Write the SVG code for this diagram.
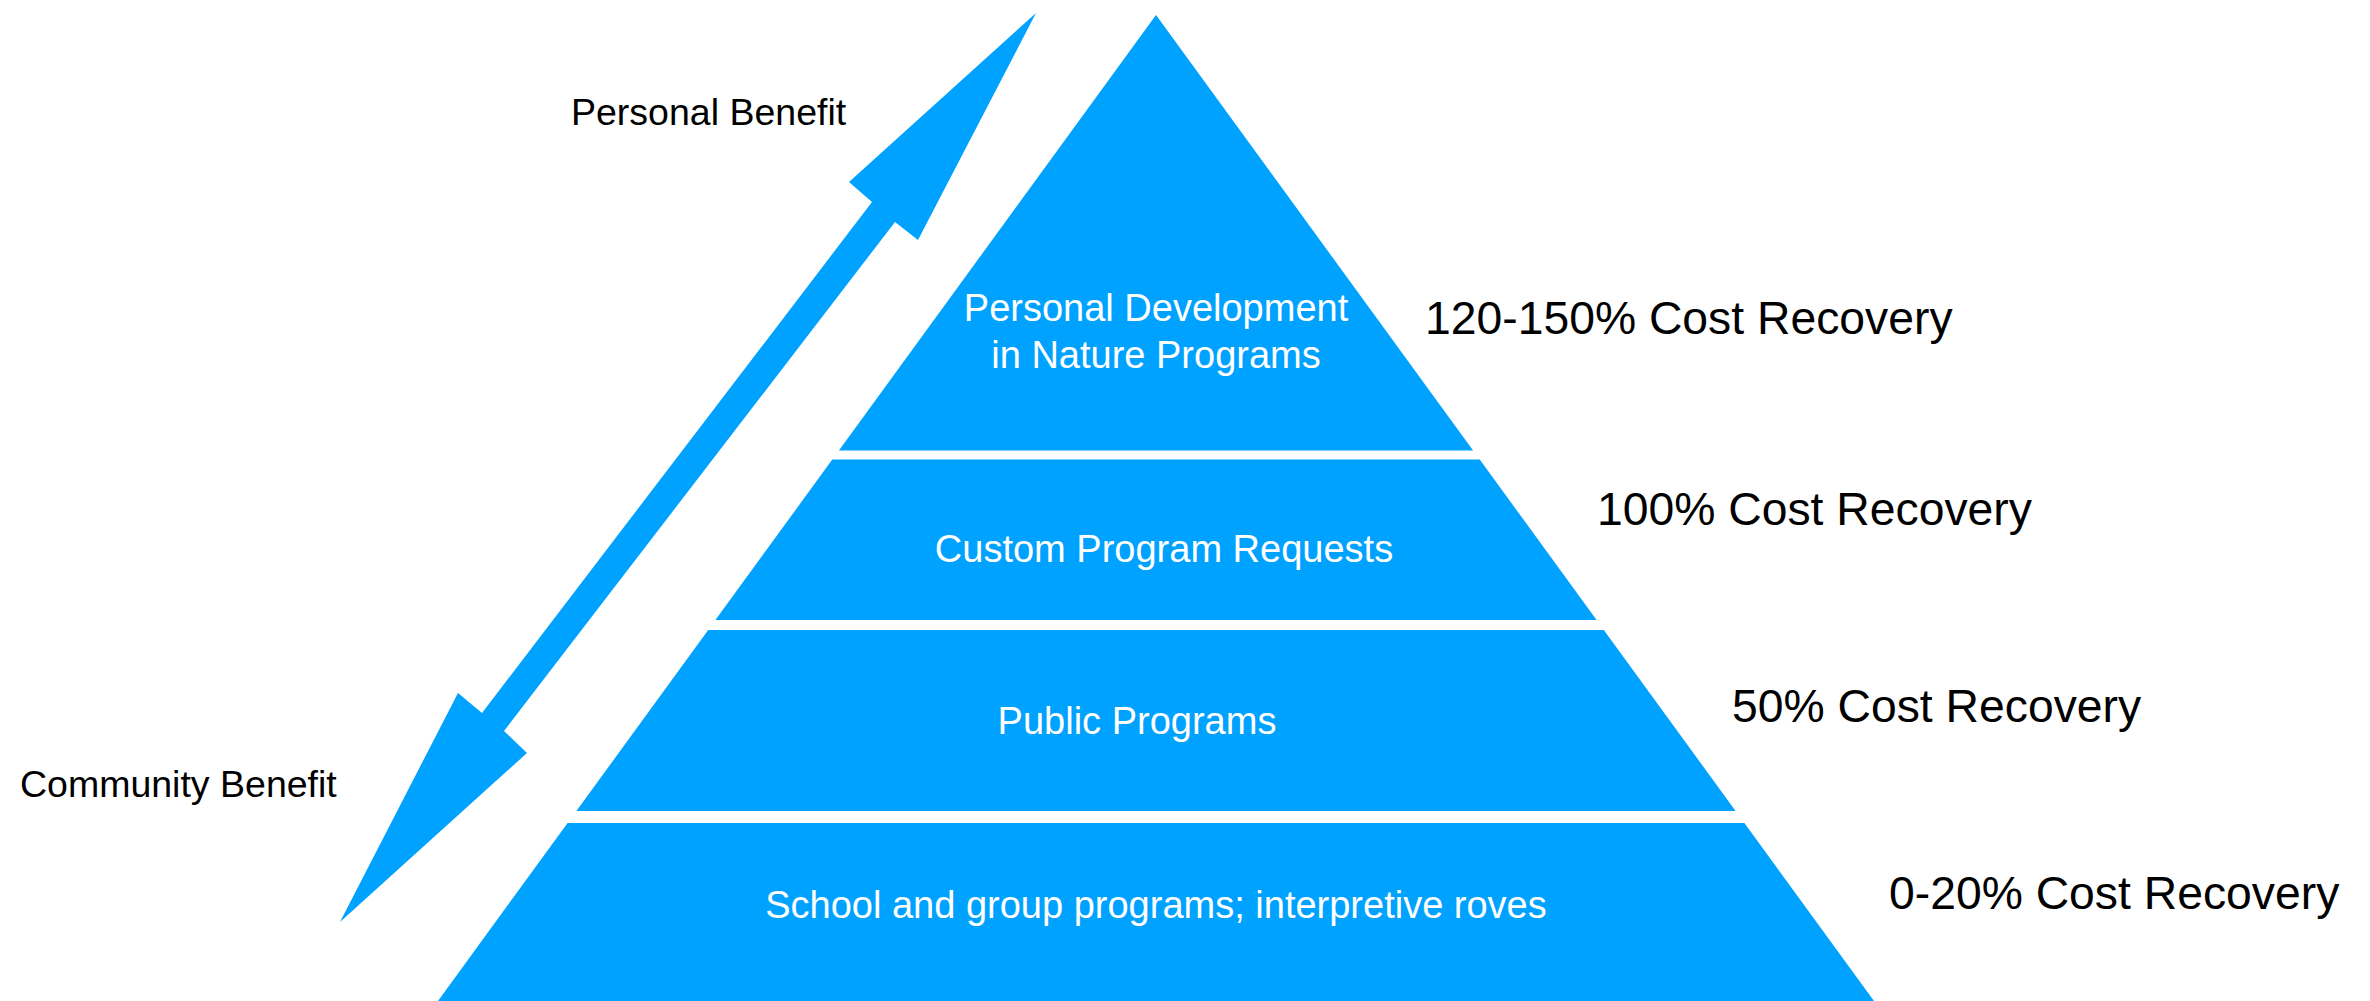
<svg xmlns="http://www.w3.org/2000/svg" width="2370" height="1001" viewBox="0 0 2370 1001">
  <style>
    .band { fill: #00A2FF; }
    .arrow { fill: #00A2FF; }
    .inner { font-family: "Liberation Sans", Arial, sans-serif; font-size: 38px; fill: #FFFFFF; text-anchor: middle; }
    .side { font-family: "Liberation Sans", Arial, sans-serif; font-size: 37.5px; fill: #000000; }
    .cost { font-family: "Liberation Sans", Arial, sans-serif; font-size: 46.3px; fill: #000000; }
  </style>
  <rect width="2370" height="1001" fill="#FFFFFF"/>

  <!-- double-headed benefit arrow -->
  <g id="connectors">
    <polygon class="arrow" points="1036,13 918,240 895,222 504,731 527,753 340,922 458,693 482,713 872,202 849,182"/>
  </g>

  <g id="label-personal-benefit">
    <text class="side" x="571" y="125">Personal Benefit</text>
  </g>
  <g id="label-community-benefit">
    <text class="side" x="20" y="797">Community Benefit</text>
  </g>

  <!-- pyramid tiers, top to bottom -->
  <g id="tier-personal-development">
    <polygon class="band" points="1156,15 1473.1,450.5 838.9,450.5"/>
    <text class="inner" x="1156" y="321">Personal Development</text>
    <text class="inner" x="1156" y="368">in Nature Programs</text>
  </g>
  <g id="tier-custom-requests">
    <polygon class="band" points="832.3,459.5 1479.7,459.5 1596.6,620 715.4,620"/>
    <text class="inner" x="1164" y="562">Custom Program Requests</text>
  </g>
  <g id="tier-public-programs">
    <polygon class="band" points="708.2,630 1603.8,630 1735.6,811 576.4,811"/>
    <text class="inner" x="1137" y="734">Public Programs</text>
  </g>
  <g id="tier-school-group">
    <polygon class="band" points="567.6,823 1744.4,823 1874,1001 438,1001"/>
    <text class="inner" x="1156" y="918">School and group programs; interpretive roves</text>
  </g>

  <!-- cost recovery labels -->
  <g id="cost-120-150">
    <text class="cost" x="1425" y="334">120-150% Cost Recovery</text>
  </g>
  <g id="cost-100">
    <text class="cost" x="1597" y="525">100% Cost Recovery</text>
  </g>
  <g id="cost-50">
    <text class="cost" x="1732" y="722">50% Cost Recovery</text>
  </g>
  <g id="cost-0-20">
    <text class="cost" x="1889" y="909">0-20% Cost Recovery</text>
  </g>
</svg>
